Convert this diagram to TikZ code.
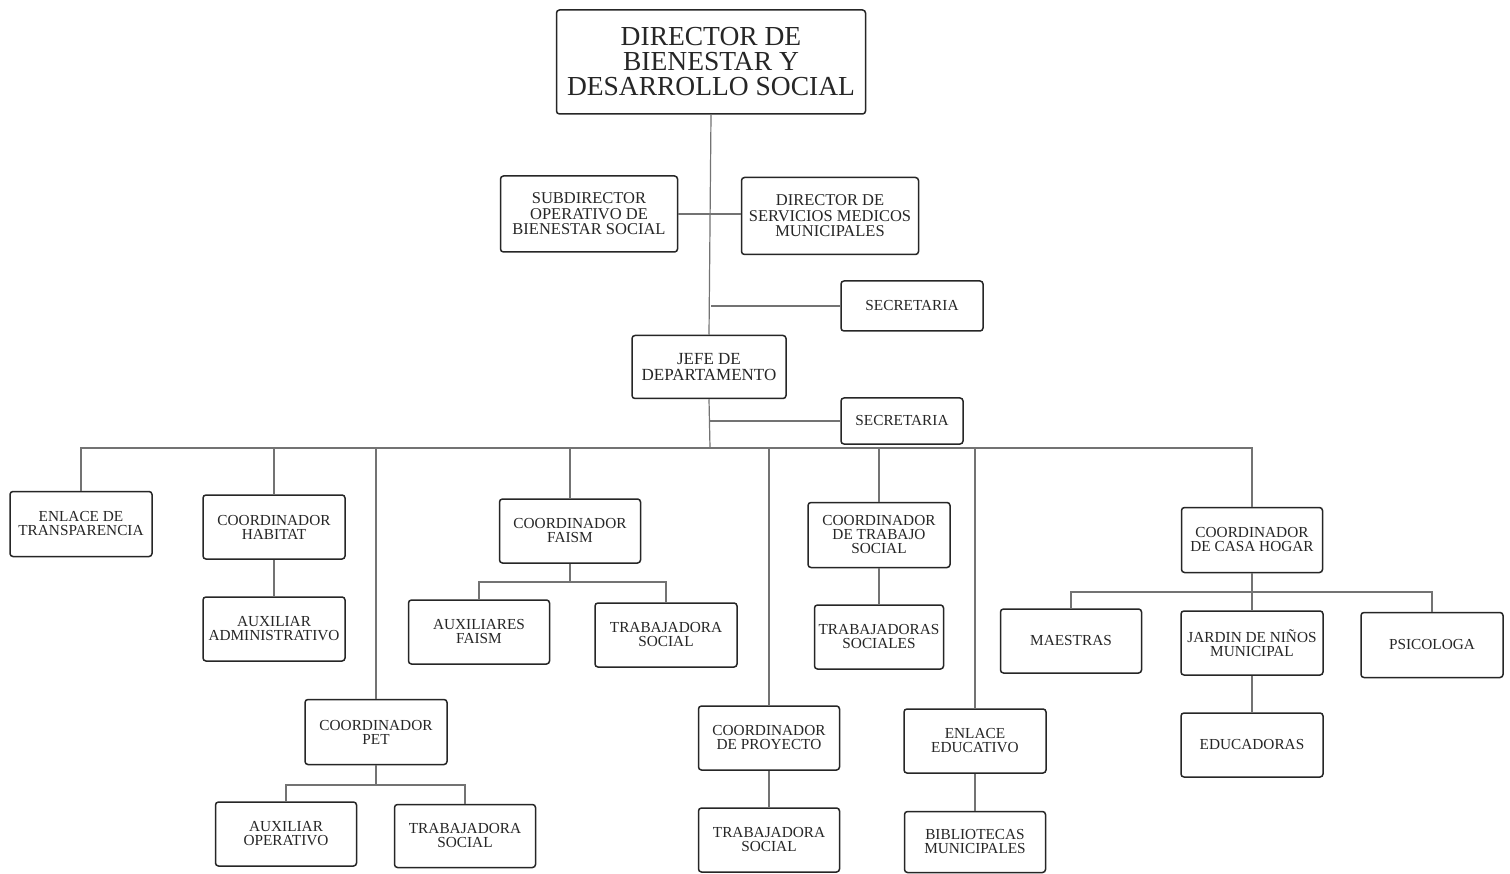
\documentclass[tikz,border=0pt]{standalone}
\usepackage{fontspec}
\setmainfont{Liberation Serif}
\begin{document}
\begin{tikzpicture}[x=1pt,y=-1pt,
  box/.style={draw=black!85, line width=1.5pt, rounded corners=3pt, align=center,
              inner sep=0pt, fill=white, text=black!85, font=\fontsize{15.3}{14}\selectfont},
  boxsize/.style 2 args={minimum width=#1pt, minimum height=#2pt},
  link/.style={draw=black!55, line width=1.2pt},
]
\useasboundingbox (0,0) rectangle (1510,874);
\fill[white] (0,0) rectangle (1510,874);

% top of the chart
\node[box, boxsize={309}{104}, font=\fontsize{27.5}{25}\selectfont] (dir) at (711,62)
  {DIRECTOR DE\\BIENESTAR Y\\DESARROLLO SOCIAL};
\node[box, boxsize={177}{76}, font=\fontsize{16.5}{15.5}\selectfont] (sub) at (589,214)
  {SUBDIRECTOR\\OPERATIVO DE\\BIENESTAR SOCIAL};
\node[box, boxsize={177}{77}, font=\fontsize{16.5}{15.5}\selectfont] (dsm) at (830,216)
  {DIRECTOR DE\\SERVICIOS MEDICOS\\MUNICIPALES};
\node[box, boxsize={142}{50}] (secA) at (912,306) {SECRETARIA};
\node[box, boxsize={154}{63}, font=\fontsize{17}{16}\selectfont] (jefe) at (709,367)
  {JEFE DE\\DEPARTAMENTO};
\node[box, boxsize={122}{46}] (secB) at (902,421) {SECRETARIA};

% second level
\node[box, boxsize={142}{65}] (enlace) at (81,524) {ENLACE DE\\TRANSPARENCIA};
\node[box, boxsize={142}{64}] (habitat) at (274,527) {COORDINADOR\\HABITAT};
\node[box, boxsize={142}{64}] (auxadm) at (274,629) {AUXILIAR\\ADMINISTRATIVO};
\node[box, boxsize={142}{65}] (pet) at (376,732) {COORDINADOR\\PET};
\node[box, boxsize={141}{64}] (auxop) at (286,834) {AUXILIAR\\OPERATIVO};
\node[box, boxsize={141}{63}] (tspet) at (465,836) {TRABAJADORA\\SOCIAL};
\node[box, boxsize={141}{64}] (faism) at (570,531) {COORDINADOR\\FAISM};
\node[box, boxsize={141}{64}] (auxf) at (479,632) {AUXILIARES\\FAISM};
\node[box, boxsize={142}{64}] (tsf) at (666,635) {TRABAJADORA\\SOCIAL};
\node[box, boxsize={141}{64}] (proy) at (769,738) {COORDINADOR\\DE PROYECTO};
\node[box, boxsize={141}{64}] (tsproy) at (769,840) {TRABAJADORA\\SOCIAL};
\node[box, boxsize={142}{65}] (trab) at (879,535) {COORDINADOR\\DE TRABAJO\\SOCIAL};
\node[box, boxsize={129}{64}] (trabs) at (879,637) {TRABAJADORAS\\SOCIALES};
\node[box, boxsize={142}{64}] (educ) at (975,741) {ENLACE\\EDUCATIVO};
\node[box, boxsize={141}{61}] (bibl) at (975,842) {BIBLIOTECAS\\MUNICIPALES};
\node[box, boxsize={141}{65}] (casa) at (1252,540) {COORDINADOR\\DE CASA HOGAR};
\node[box, boxsize={141}{64}] (maes) at (1071,641) {MAESTRAS};
\node[box, boxsize={142}{64}] (jardin) at (1252,643) {JARDIN DE NIÑOS\\MUNICIPAL};
\node[box, boxsize={142}{65}] (psico) at (1432,645) {PSICOLOGA};
\node[box, boxsize={142}{64}] (educad) at (1252,745) {EDUCADORAS};

% junction points
\coordinate (bus) at (710,448);
\coordinate (petbus) at (376,785);
\coordinate (faismbus) at (570,582);
\coordinate (casabus) at (1252,592);

% main trunk and staff lines
\draw[link] (dir.south) -- (jefe.north);
\draw[link] (sub.east) -- (sub.east -| dsm.west);
\draw[link] (dir.south |- secA.west) -- (secA.west);
\draw[link] (jefe.south) -- (bus);
\draw[link] (jefe.south |- secB.west) -- (secB.west);

% distribution bus to second level
\foreach \n in {enlace,habitat,pet,faism,proy,trab,educ,casa}
  \draw[link] (\n.north) |- (bus);

% branches below the coordinators
\draw[link] (habitat.south) -- (auxadm.north);
\draw[link] (pet.south) -- (petbus);
\draw[link] (auxop.north) |- (petbus);
\draw[link] (tspet.north) |- (petbus);
\draw[link] (faism.south) -- (faismbus);
\draw[link] (auxf.north) |- (faismbus);
\draw[link] (tsf.north) |- (faismbus);
\draw[link] (proy.south) -- (tsproy.north);
\draw[link] (trab.south) -- (trabs.north);
\draw[link] (educ.south) -- (bibl.north);
\draw[link] (casa.south) -- (jardin.north);
\draw[link] (maes.north) |- (casabus);
\draw[link] (psico.north) |- (casabus);
\draw[link] (jardin.south) -- (educad.north);
\end{tikzpicture}
\end{document}
